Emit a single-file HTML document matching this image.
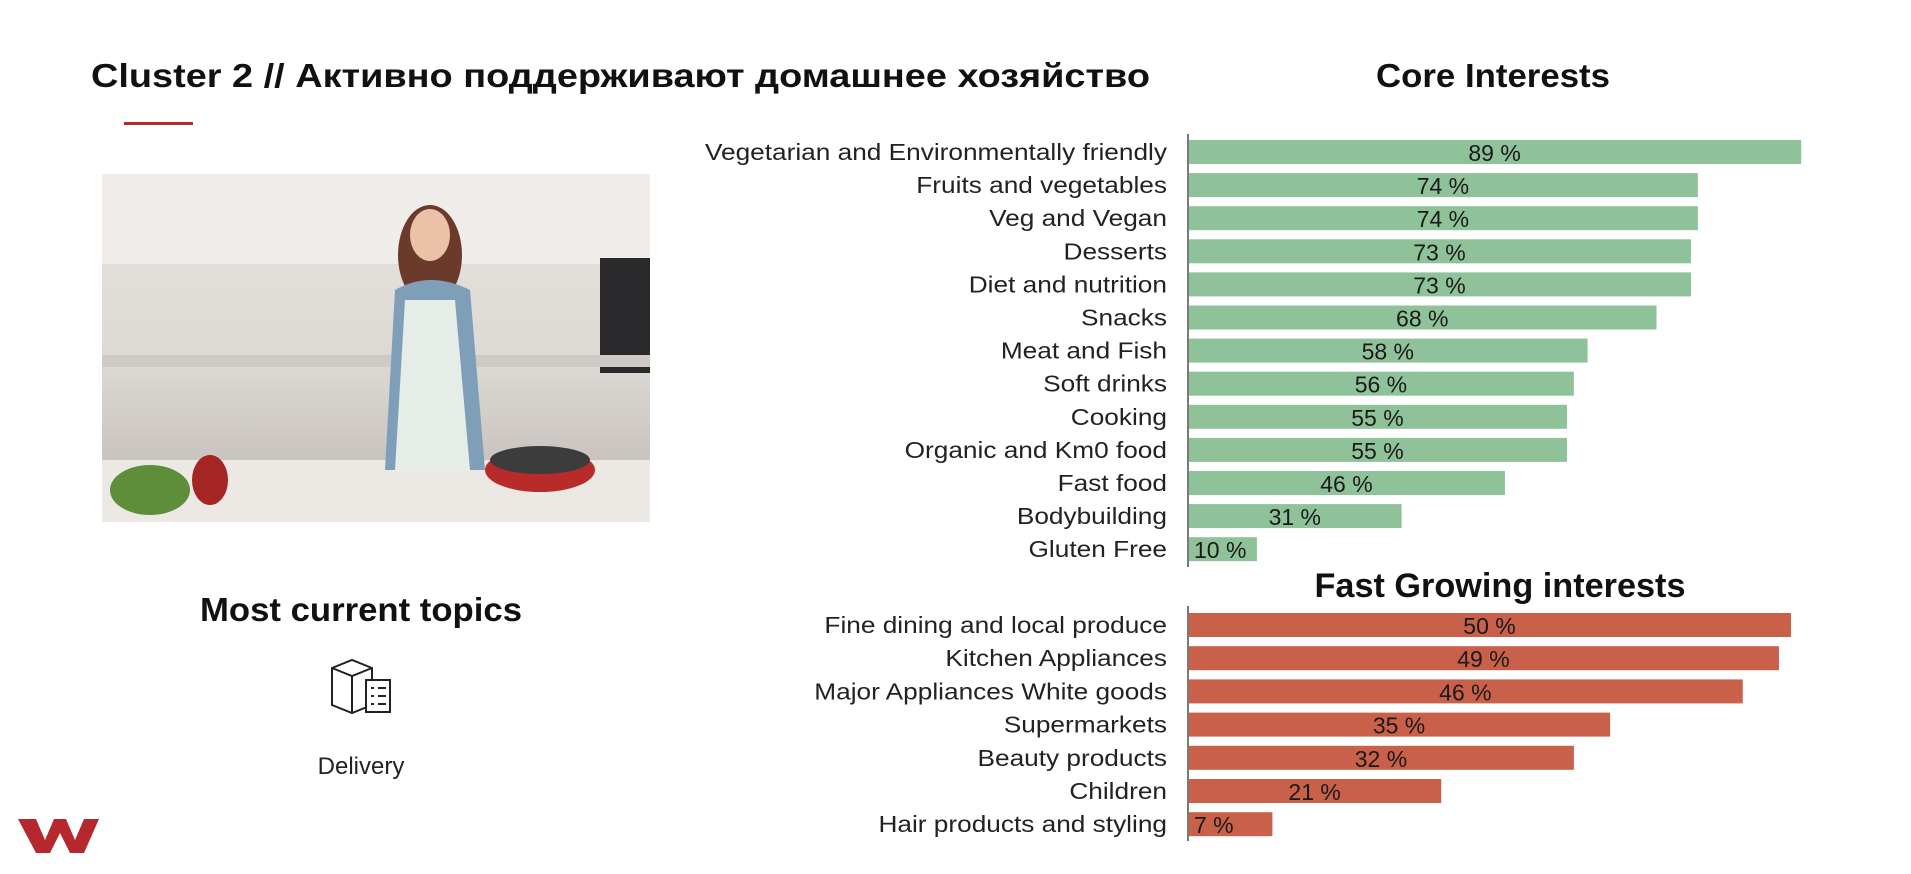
<!DOCTYPE html>
<html><head><meta charset="utf-8"><style>
html,body{margin:0;padding:0;background:#fff;width:1911px;height:874px;overflow:hidden}
svg{display:block;font-family:"Liberation Sans",sans-serif}
</style></head><body>
<svg id="c" width="1911" height="874" viewBox="0 0 1911 874">
<text x="91" y="87" font-size="33" font-weight="bold" fill="#111" textLength="1059" lengthAdjust="spacingAndGlyphs">Cluster 2 // Активно поддерживают домашнее хозяйство</text>
<rect x="124" y="122" width="69" height="3" fill="#b5282e"/>
<g>
<defs><linearGradient id="bg" x1="0" y1="0" x2="0" y2="1"><stop offset="0" stop-color="#e8e4e0"/><stop offset="0.55" stop-color="#dcd8d4"/><stop offset="1" stop-color="#bdb7b2"/></linearGradient></defs>
<rect x="102" y="174" width="548" height="348" fill="url(#bg)"/>
<rect x="102" y="174" width="548" height="90" fill="#efece9"/>
<rect x="600" y="258" width="50" height="115" fill="#2a2a2c"/>
<rect x="102" y="355" width="548" height="12" fill="#cfcac5"/>
<rect x="102" y="460" width="548" height="62" fill="#ece8e4"/>
<ellipse cx="430" cy="255" rx="32" ry="50" fill="#6b3a2a"/>
<ellipse cx="430" cy="235" rx="20" ry="26" fill="#e9c2a8"/>
<path d="M395 290 Q430 270 470 290 L485 470 L385 470 Z" fill="#7f9fb8"/>
<path d="M405 300 L455 300 L470 470 L395 470 Z" fill="#e6ece8"/>
<ellipse cx="540" cy="470" rx="55" ry="22" fill="#b92a2a"/>
<ellipse cx="540" cy="460" rx="50" ry="14" fill="#3c3c3c"/>
<ellipse cx="150" cy="490" rx="40" ry="25" fill="#5e8e3a"/>
<ellipse cx="210" cy="480" rx="18" ry="25" fill="#a52424"/>
</g>
<text x="361" y="621" font-size="33" font-weight="bold" text-anchor="middle" fill="#111" textLength="322" lengthAdjust="spacingAndGlyphs">Most current topics</text>
<g fill="none" stroke="#222" stroke-width="2">
<path d="M332 668 L352 660 L372 668 L372 705 L352 713 L332 705 Z"/><path d="M332 668 L352 676 L372 668 M352 676 L352 713"/>
<rect x="366" y="680" width="24" height="32" fill="#fff"/><path d="M371 688h3M378 688h8M371 696h3M378 696h8M371 704h3M378 704h8"/>
</g>
<text x="361" y="774" font-size="24" text-anchor="middle" fill="#222">Delivery</text>
<path d="M18 819 L36 819 L45 840 L54 819 L66 819 L75 840 L84 819 L99 819 L84 853 L70 853 L60 833 L50 853 L36 853 Z" fill="#b5282e"/>
<text x="1493" y="87" font-size="33" text-anchor="middle" fill="#111" font-weight="bold" textLength="234" lengthAdjust="spacingAndGlyphs">Core Interests</text>
<text x="1500" y="597" font-size="34" text-anchor="middle" fill="#111" font-weight="bold" textLength="371" lengthAdjust="spacingAndGlyphs">Fast Growing interests</text>
<g id="core"></g><g id="fast"></g>
</svg>
<script>
const coreCategories=["Vegetarian and Environmentally friendly","Fruits and vegetables","Veg and Vegan","Desserts","Diet and nutrition","Snacks","Meat and Fish","Soft drinks","Cooking","Organic and Km0 food","Fast food","Bodybuilding","Gluten Free"];
const coreValues=[89,74,74,73,73,68,58,56,55,55,46,31,10];
const fastCategories=["Fine dining and local produce","Kitchen Appliances","Major Appliances White goods","Supermarkets","Beauty products","Children","Hair products and styling"];
const fastValues=[50,49,46,35,32,21,7];
const NS="http://www.w3.org/2000/svg";
function mk(t,a,p){const e=document.createElementNS(NS,t);for(const k in a)e.setAttribute(k,a[k]);p.appendChild(e);return e;}
function chart(g,cats,vals,x0,pxPer,y0,step,color,axisTop,axisBot,name){
  const xs=v=>x0+v*pxPer, ys=i=>y0+i*step;
  const ax=mk('line',{x1:x0,x2:x0,y1:axisTop,y2:axisBot,stroke:'#222','stroke-width':1.2},g);
  
  
  cats.forEach((c,i)=>{
    const y=ys(i);
    const l=mk('text',{x:1167,y:y+8,'font-size':23,'text-anchor':'end',fill:'#222'},g);l.textContent=c;
    
    
    const len=l.getComputedTextLength();
    if(len>0){l.setAttribute('textLength',len*1.14);l.setAttribute('lengthAdjust','spacingAndGlyphs');}
    const b=mk('rect',{x:x0+1,y:y-12,width:xs(vals[i])-x0-1,height:24,fill:color},g);
    
    
    const w=xs(vals[i])-x0;
    const cx=vals[i]<15?x0+6:x0+w/2;
    const v=mk('text',{x:cx,y:y+9,'font-size':23,'text-anchor':vals[i]<15?'start':'middle',fill:'#1a1a1a'},g);v.textContent=vals[i]+' %';
    
    
  });
}
chart(document.getElementById('core'),coreCategories,coreValues,1188,6.89,152,33.1,'#8fc299',134,567,'core');
chart(document.getElementById('fast'),fastCategories,fastValues,1188,12.06,625,33.2,'#c9604a',606,841,'fast');
</script>
</body></html>
